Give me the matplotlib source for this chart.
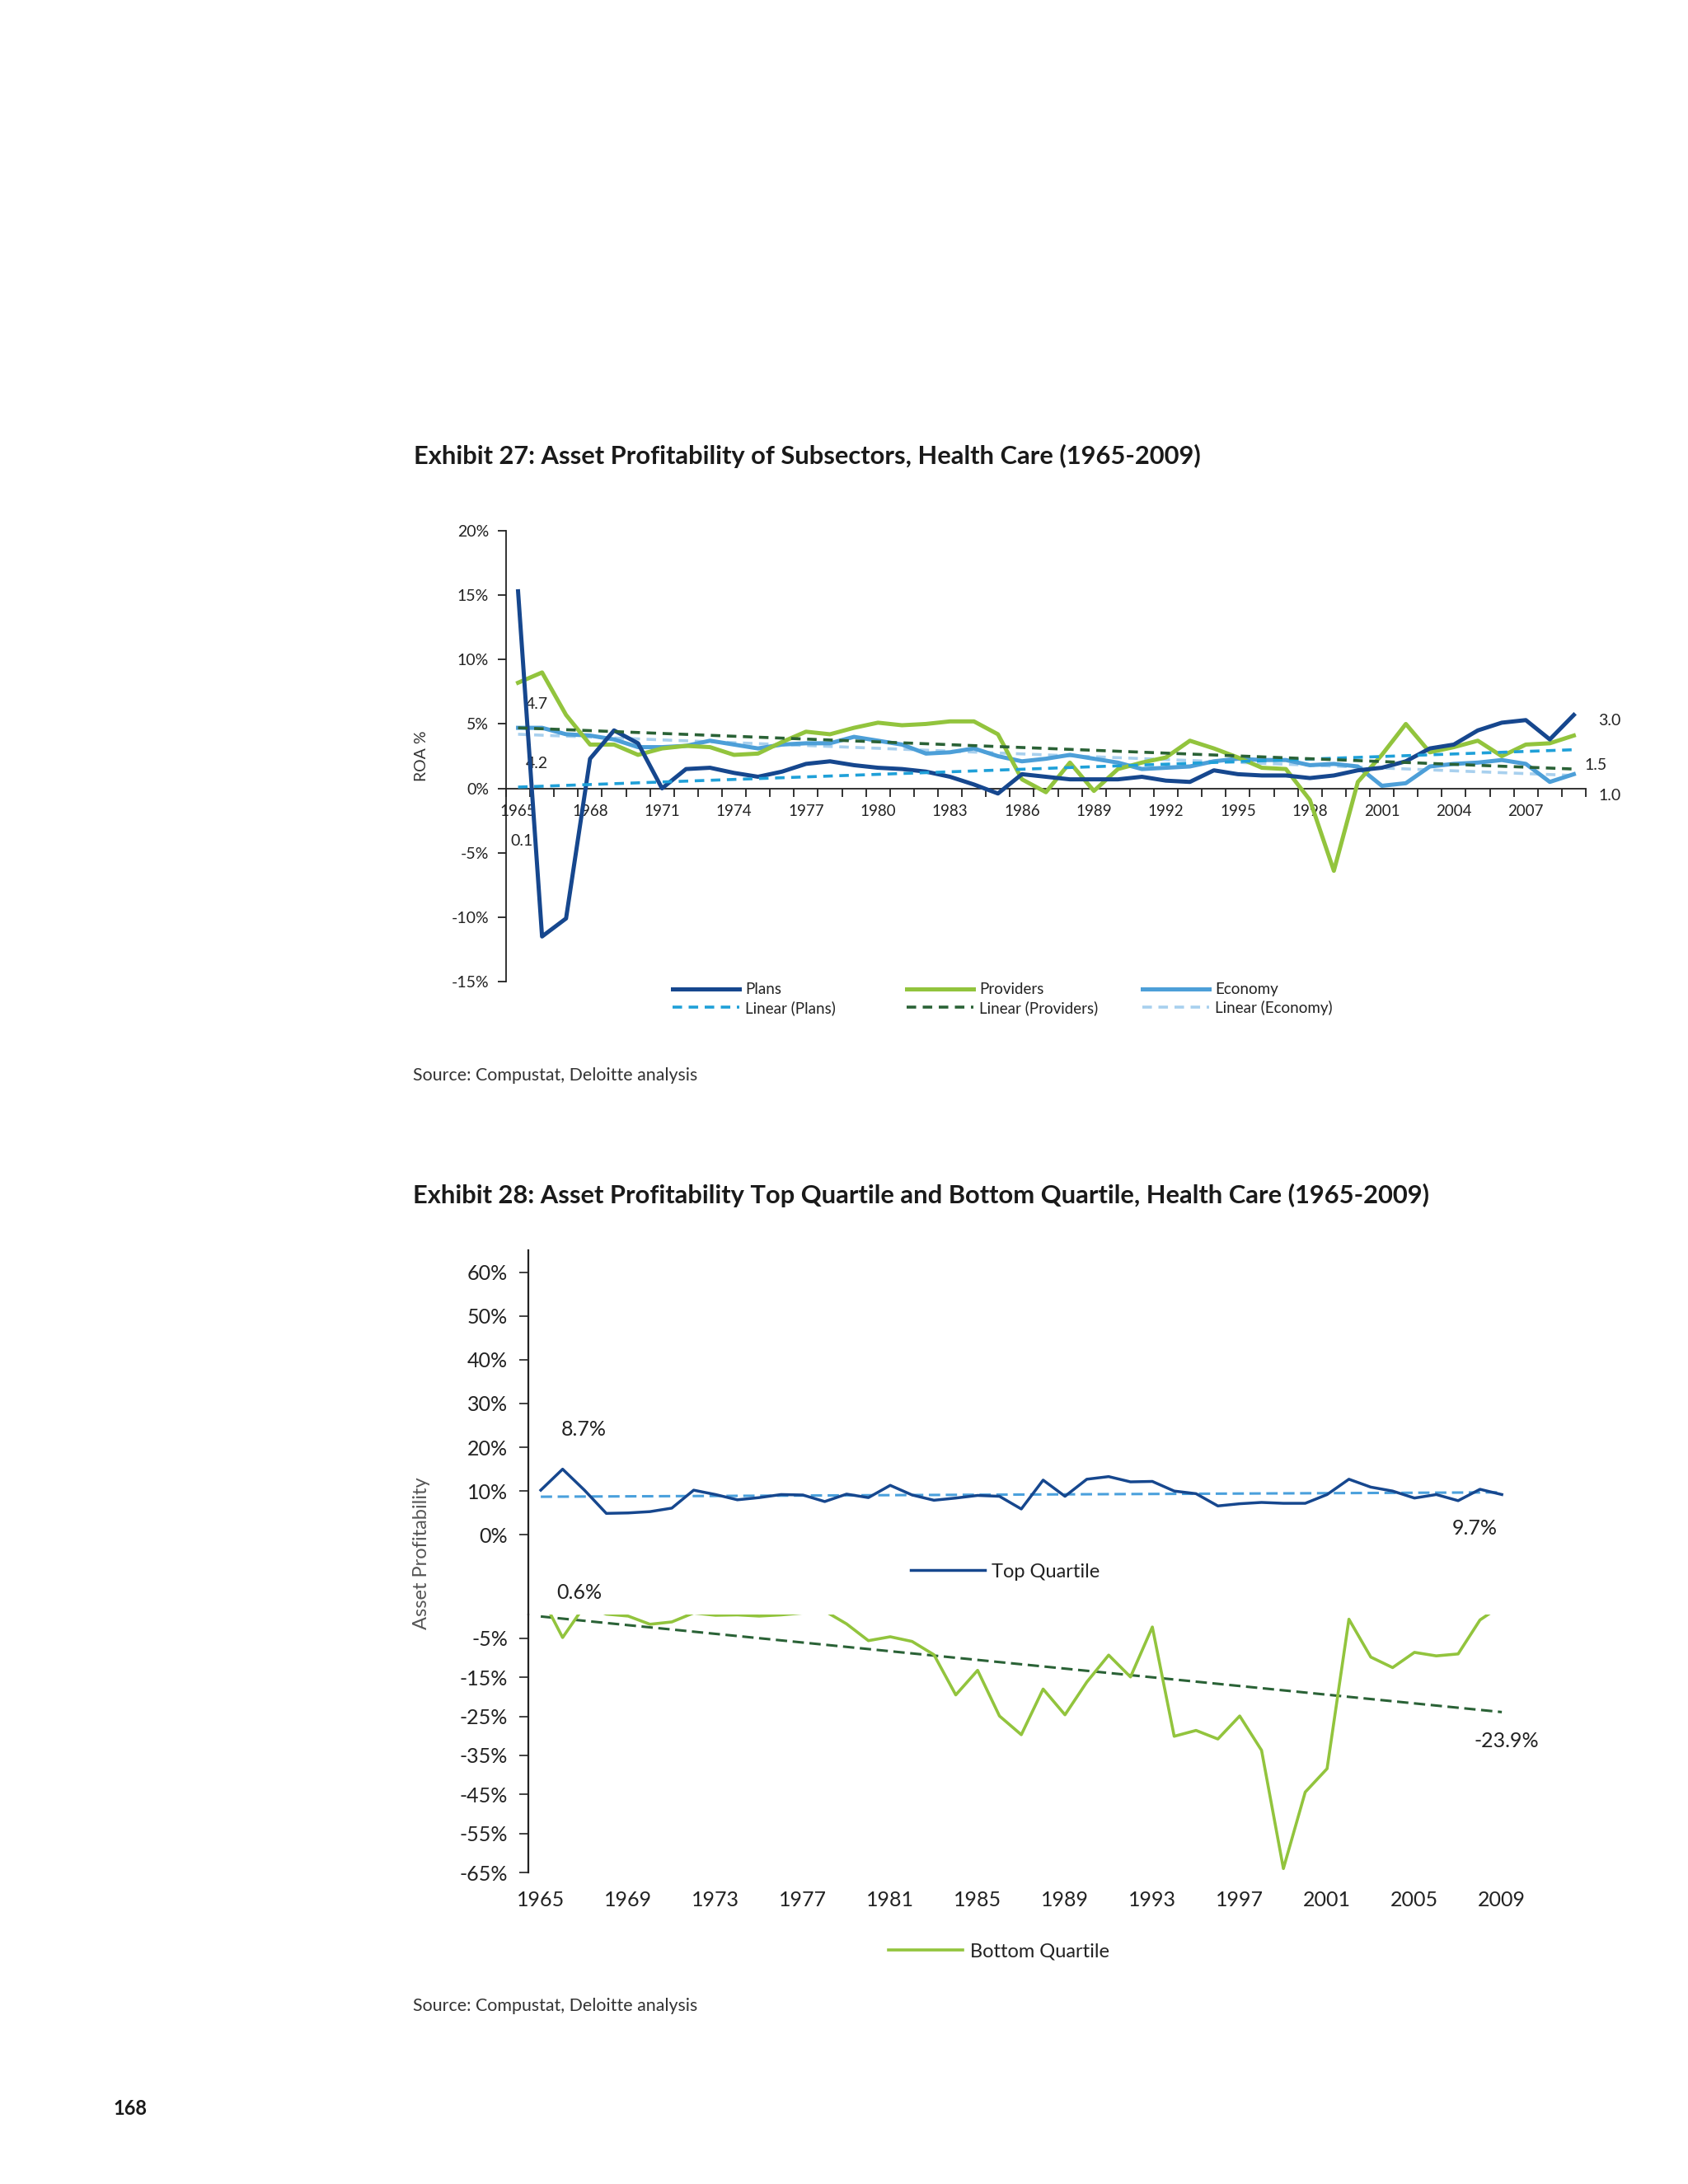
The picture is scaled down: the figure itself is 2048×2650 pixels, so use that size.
import matplotlib
matplotlib.use("Agg")
import matplotlib.pyplot as plt
import numpy as np

# ---------------- data ----------------
years = list(range(1965, 2010))

plans = [15.3, -11.5, -10.1, 2.3, 4.5, 3.5, 0.0, 1.5, 1.6, 1.2, 0.9, 1.3, 1.9, 2.1, 1.8,
         1.6, 1.5, 1.3, 0.9, 0.3, -0.4, 1.1, 0.9, 0.7, 0.7, 0.7, 0.9, 0.6, 0.5, 1.4,
         1.1, 1.0, 1.0, 0.8, 1.0, 1.4, 1.6, 2.1, 3.1, 3.4, 4.5, 5.1, 5.3, 3.8, 5.7]
providers = [8.2, 9.0, 5.7, 3.4, 3.4, 2.6, 3.1, 3.3, 3.2, 2.6, 2.7, 3.6, 4.4, 4.2, 4.7,
             5.1, 4.9, 5.0, 5.2, 5.2, 4.2, 0.7, -0.3, 2.0, -0.2, 1.5, 2.0, 2.4, 3.7, 3.1,
             2.4, 1.6, 1.5, -0.9, -6.4, 0.5, 2.6, 5.0, 2.8, 3.2, 3.7, 2.5, 3.4, 3.5, 4.1]
economy = [4.7, 4.7, 4.2, 4.1, 3.8, 3.2, 3.2, 3.3, 3.7, 3.4, 3.1, 3.4, 3.5, 3.5, 4.0,
           3.7, 3.4, 2.7, 2.8, 3.1, 2.5, 2.1, 2.3, 2.6, 2.3, 2.0, 1.5, 1.6, 1.7, 2.1,
           2.3, 2.2, 2.2, 1.8, 1.9, 1.7, 0.2, 0.4, 1.7, 1.9, 2.0, 2.2, 1.9, 0.5, 1.1]
# linear trend end points (1965, 2009)
trend_plans = [0.1, 3.0]
trend_providers = [4.7, 1.5]
trend_economy = [4.2, 1.0]

top_quartile = [10.2, 15.0, 10.2, 4.9, 5.0, 5.3, 6.1, 10.2, 9.2, 8.0, 8.5, 9.2, 9.1, 7.6, 9.3,
                8.5, 11.3, 9.1, 7.9, 8.4, 9.0, 8.8, 5.9, 12.5, 8.8, 12.7, 13.3, 12.1, 12.2, 10.0,
                9.4, 6.6, 7.1, 7.4, 7.2, 7.2, 9.2, 12.7, 10.9, 10.0, 8.4, 9.2, 7.8, 10.4, 9.2]
bottom_quartile = [6.0, -4.8, 3.3, 1.2, 0.7, -1.4, -0.8, 1.5, 0.9, 1.0, 0.7, 1.0, 1.5, 2.0, -1.3,
                   -5.6, -4.6, -5.8, -9.2, -19.5, -13.2, -24.9, -29.7, -18.0, -24.6, -16.2, -9.3, -14.9, -2.1, -30.1,
                   -28.6, -30.8, -24.9, -33.7, -64.0, -44.4, -38.4, -0.1, -9.8, -12.5, -8.6, -9.5, -9.0, -0.3, 3.5]
trend_top = [8.7, 9.7]
trend_bottom = [0.6, -23.9]

ex27_xticks = list(range(1965, 2009, 3))
ex27_yticks = [-15, -10, -5, 0, 5, 10, 15, 20]
ex28_xticks = list(range(1965, 2010, 4))
ex28_top_yticks = [0, 10, 20, 30, 40, 50, 60]
ex28_bot_yticks = [-65, -55, -45, -35, -25, -15, -5]

# ---------------- style ----------------
C_PLANS = "#16478e"
C_PROV = "#92c43d"
C_ECON = "#4d9fd8"
C_LPLANS = "#1fa0d8"
C_LPROV = "#2a6236"
C_LECON = "#a8d0ee"
TXT = "#222222"

FONT = ["Lato", "DejaVu Sans"]
plt.rcParams["font.family"] = FONT
plt.rcParams["text.color"] = TXT
plt.rcParams["axes.edgecolor"] = "#222222"
plt.rcParams["xtick.color"] = "#222222"
plt.rcParams["ytick.color"] = "#222222"

W, H = 2048, 2650
fig = plt.figure(figsize=(W / 100, H / 100), dpi=100)
fig.patch.set_facecolor("white")


def fx(px):
    return px / W


def fy(py):
    return 1 - py / H


def pct(v, _=None):
    return f"{v:.0f}%"


# ---------------- Exhibit 27 ----------------
fig.text(fx(502), fy(553), "Exhibit 27: Asset Profitability of Subsectors, Health Care (1965-2009)",
         fontsize=22.2, fontweight="bold", va="center", ha="left", color="#1a1a1a")

ax1 = fig.add_axes([fx(614), fy(1191), (1924 - 614) / W, (1191 - 644) / H])
ax1.set_xlim(1964.5, 2009.5)
ax1.set_ylim(-15, 20)
for s in ["top", "right"]:
    ax1.spines[s].set_visible(False)
ax1.spines["bottom"].set_position(("data", 0))
ax1.spines["left"].set_linewidth(1.3)
ax1.spines["bottom"].set_linewidth(1.3)

l_plans, = ax1.plot(years, plans, color=C_PLANS, lw=3.6, label="Plans", solid_joinstyle="round", zorder=4)
l_prov, = ax1.plot(years, providers, color=C_PROV, lw=3.6, label="Providers", solid_joinstyle="round", zorder=3)
l_econ, = ax1.plot(years, economy, color=C_ECON, lw=3.6, label="Economy", solid_joinstyle="round", zorder=2)
ends = [years[0], years[-1]]
d_plans, = ax1.plot(ends, trend_plans, color=C_LPLANS, lw=2.6, dashes=(3.2, 2.2), label="Linear (Plans)", zorder=5)
d_prov, = ax1.plot(ends, trend_providers, color=C_LPROV, lw=2.6, dashes=(3.2, 2.2), label="Linear (Providers)", zorder=5)
d_econ, = ax1.plot(ends, trend_economy, color=C_LECON, lw=2.6, dashes=(3.2, 2.2), label="Linear (Economy)", zorder=1)

ax1.set_xticks(np.arange(1964.5, 2010, 1))
ax1.set_xticklabels([])
ax1.set_xticks(ex27_xticks, minor=True)
ax1.set_xticklabels([str(y) for y in ex27_xticks], minor=True)
ax1.tick_params(axis="x", which="major", length=7, width=1.3, direction="out")
ax1.tick_params(axis="x", which="minor", length=0, pad=14, labelsize=13.5)
ax1.set_yticks(ex27_yticks)
ax1.yaxis.set_major_formatter(pct)
ax1.tick_params(axis="y", length=7, width=1.3, labelsize=14, pad=8)
ax1.set_ylabel("ROA %", fontsize=14, labelpad=20, color="#333333")

# trend value labels
ax1.text(1965.77, 6.5, "4.7", fontsize=14, ha="center", va="center")
ax1.text(1965.77, 1.9, "4.2", fontsize=14, ha="center", va="center")
ax1.text(1965.15, -4.1, "0.1", fontsize=14, ha="center", va="center")
ax1.text(2010.5, 5.25, "3.0", fontsize=14, ha="center", va="center", clip_on=False)
ax1.text(2009.93, 1.8, "1.5", fontsize=14, ha="center", va="center", clip_on=False)
ax1.text(2010.5, -0.6, "1.0", fontsize=14, ha="center", va="center", clip_on=False)

# legend: three columns of two entries
for (h1, h2), xs in zip([(l_plans, d_plans), (l_prov, d_prov), (l_econ, d_econ)], [816, 1100, 1386]):
    fig.legend(handles=[h1, h2], loc="center left", bbox_to_anchor=(fx(xs), fy(1212)),
               frameon=False, fontsize=13.5, handlelength=4.3, handletextpad=0.4,
               labelspacing=0.25, borderpad=0, borderaxespad=0)

fig.text(fx(501), fy(1305), "Source: Compustat, Deloitte analysis", fontsize=15.4,
         va="center", ha="left", color="#333333")

# ---------------- Exhibit 28 ----------------
fig.text(fx(501), fy(1450), "Exhibit 28: Asset Profitability Top Quartile and Bottom Quartile, Health Care (1965-2009)",
         fontsize=22.2, fontweight="bold", va="center", ha="left", color="#1a1a1a")

x0_2 = 1964.43
x1_2 = 2011.0
left2 = 641
width2 = (x1_2 - x0_2) * 26.5

ax_top = fig.add_axes([fx(left2), fy(1959), width2 / W, (1959 - 1517) / H])
ax_bot = fig.add_axes([fx(left2), fy(2272), width2 / W, (2272 - 1959) / H])

ax_top.set_xlim(x0_2, x1_2)
ax_top.set_ylim(-18.2, 65)
ax_bot.set_xlim(x0_2, x1_2)
ax_bot.set_ylim(-65, 1.1)

for a in (ax_top, ax_bot):
    for s in ["top", "right", "bottom"]:
        a.spines[s].set_visible(False)
    a.spines["left"].set_linewidth(1.6)
    a.patch.set_alpha(0)
    a.tick_params(axis="y", length=8, width=1.2, labelsize=18, pad=10)
    a.yaxis.set_major_formatter(pct)

t_line, = ax_top.plot(years, top_quartile, color=C_PLANS, lw=2.5, label="Top Quartile", zorder=3)
ax_top.plot(ends, trend_top, color="#4aa0dc", lw=2.2, dashes=(4.5, 2.2), zorder=2)
ax_top.set_yticks(ex28_top_yticks)
ax_top.set_xticks([])

b_line, = ax_bot.plot(years, bottom_quartile, color=C_PROV, lw=2.6, label="Bottom Quartile", zorder=3)
ax_bot.plot(ends, trend_bottom, color=C_LPROV, lw=2.2, dashes=(4.5, 2.2), zorder=2)
ax_bot.set_yticks(ex28_bot_yticks)
ax_bot.set_xticks(ex28_xticks)
ax_bot.tick_params(axis="x", length=0, labelsize=18, pad=16)

ax_top.text(1966.96, 24.0, "8.7%", fontsize=18, ha="center", va="center")
ax_top.text(2007.75, 1.5, "9.7%", fontsize=18, ha="center", va="center")
ax_top.text(1966.77, -13.2, "0.6%", fontsize=18, ha="center", va="center")
ax_bot.text(2009.2, -31.4, "-23.9%", fontsize=18, ha="center", va="center", clip_on=False)

fig.text(fx(512), fy(1885), "Asset Profitability", rotation=90, fontsize=17,
         color="#555555", ha="center", va="center")

fig.legend(handles=[t_line], loc="center left", bbox_to_anchor=(fx(1105), fy(1907)),
           frameon=False, fontsize=17, handlelength=3.8, handletextpad=0.35,
           borderpad=0, borderaxespad=0)
fig.legend(handles=[b_line], loc="center left", bbox_to_anchor=(fx(1078), fy(2368)),
           frameon=False, fontsize=17, handlelength=3.8, handletextpad=0.4,
           borderpad=0, borderaxespad=0)

fig.text(fx(501), fy(2434), "Source: Compustat, Deloitte analysis", fontsize=15.4,
         va="center", ha="left", color="#333333")

fig.text(fx(137), fy(2558), "168", fontsize=17, fontweight="bold", va="center", ha="left", color="#1a1a1a")

fig.savefig("out.png", dpi=100, facecolor="white")
